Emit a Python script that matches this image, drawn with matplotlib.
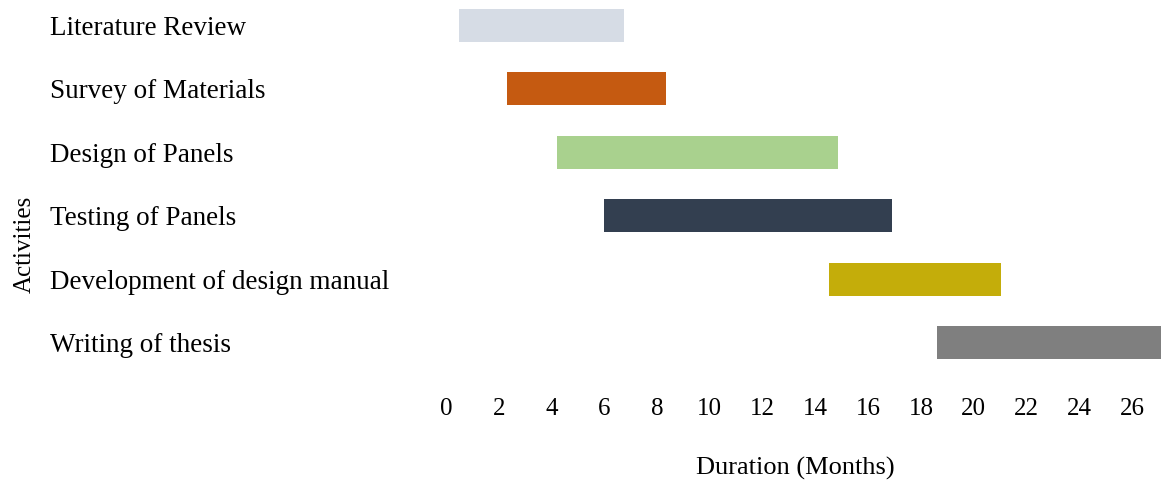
import matplotlib.pyplot as plt

plt.rcParams['font.family'] = ['Liberation Serif', 'DejaVu Serif']

activities = ['Literature Review', 'Survey of Materials', 'Design of Panels',
              'Testing of Panels', 'Development of design manual', 'Writing of thesis']
start = [0.5, 2.3, 4.2, 6.0, 14.5, 18.6]
finish = [6.75, 8.35, 14.85, 16.9, 21.05, 27.5]
colors = ['#D6DCE5', '#C55A11', '#A9D18E', '#333F50', '#C4AD0A', '#7F7F7F']
months = list(range(0, 27, 2))

fig = plt.figure(figsize=(11.61, 4.83), dpi=100)
ax = fig.add_axes([446 / 1161, 103 / 483, 1 - 446 / 1161, 380 / 483])

rows = list(range(len(activities)))
widths = [f - s for s, f in zip(start, finish)]
ax.barh(rows, widths, left=start, height=0.52, color=colors)

ax.set_xlim(0, 27.1)
ax.set_ylim(5.59, -0.394)
ax.set_xticks(months)
ax.set_xticklabels([str(m) for m in months], fontsize=18)
ax.set_yticks(rows)
ax.set_yticklabels(activities, fontsize=19.5)
for lab in ax.get_yticklabels():
    lab.set_ha('left')
ax.tick_params(axis='y', length=0, pad=(446 - 50) * 0.72)
ax.tick_params(axis='x', length=0, pad=13)
for sp in ax.spines.values():
    sp.set_visible(False)

fig.text(795 / 1161, 1 - 468 / 483, 'Duration (Months)', ha='center', va='center', fontsize=19)
fig.text(25 / 1161, 1 - 244 / 483, 'Activities', rotation=90,
         ha='center', va='center', fontsize=18)

fig.savefig('out.png')
